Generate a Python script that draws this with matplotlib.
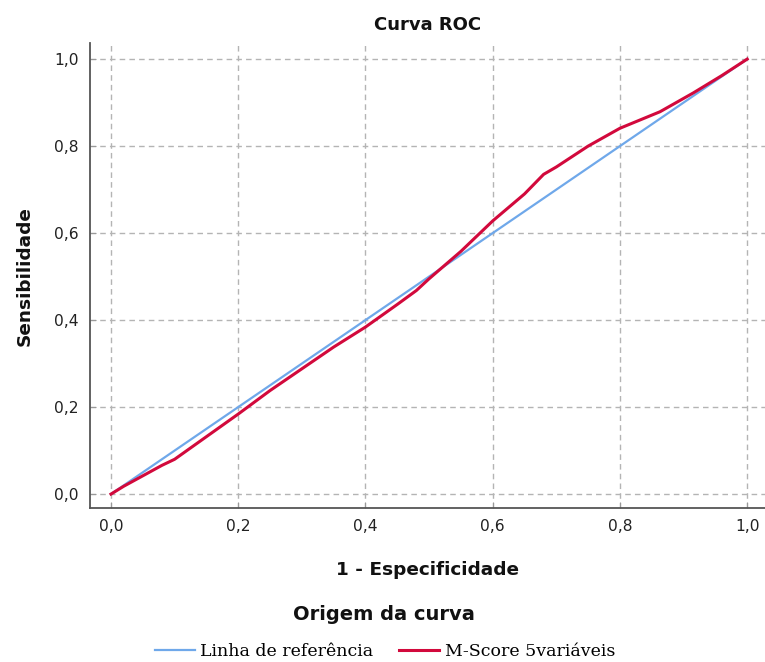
import matplotlib
matplotlib.use("Agg")
import matplotlib.pyplot as plt
from matplotlib.ticker import FuncFormatter

# Data
ref_x = [0.0, 1.0]
ref_y = [0.0, 1.0]
roc_x = [0.0, 0.02, 0.05, 0.08, 0.10, 0.15, 0.20, 0.25, 0.30, 0.35, 0.40, 0.45, 0.48,
         0.50, 0.55, 0.60, 0.65, 0.68, 0.70, 0.75, 0.80, 0.863, 0.915, 0.96, 1.0]
roc_y = [0.0, 0.018, 0.042, 0.066, 0.080, 0.132, 0.184, 0.238, 0.288, 0.338, 0.384, 0.436, 0.468,
         0.495, 0.558, 0.628, 0.690, 0.735, 0.752, 0.800, 0.841, 0.879, 0.922, 0.962, 1.0]
ticks = [0.0, 0.2, 0.4, 0.6, 0.8, 1.0]

W, H = 765, 662
fig = plt.figure(figsize=(W/100, H/100), dpi=100)
ax = fig.add_axes([90/W, 1-508/H, 1-90/W, (508-43)/H])

blue = "#6FA8EA"
red = "#D2093C"
l1, = ax.plot(ref_x, ref_y, color=blue, lw=1.6, label="Linha de referência", zorder=3)
l2, = ax.plot(roc_x, roc_y, color=red, lw=2.2, label="M-Score 5variáveis", zorder=4)

ax.set_xlim(-0.033, 1.028)
ax.set_ylim(-0.032, 1.037)
ax.set_xticks(ticks)
ax.set_yticks(ticks)
fmt = FuncFormatter(lambda v, p: f"{v:.1f}".replace(".", ","))
ax.xaxis.set_major_formatter(fmt)
ax.yaxis.set_major_formatter(fmt)
ax.grid(True, color="#B4B4B4", linestyle=(0, (4, 3)), lw=1.0, zorder=0)
for s in ["top", "right"]:
    ax.spines[s].set_visible(False)
for s in ["left", "bottom"]:
    ax.spines[s].set_color("#555555")
    ax.spines[s].set_linewidth(1.3)
ax.tick_params(direction="in", length=4, color="#999999", labelsize=11.2,
               labelcolor="#222222", pad=8)

fig.text(428/W, 1-25/H, "Curva ROC", ha="center", va="center",
         fontsize=13, fontweight="bold", color="#111111")
fig.text(428/W, 1-570/H, "1 - Especificidade", ha="center", va="center",
         fontsize=13.3, fontweight="bold", color="#111111")
fig.text(25/W, 1-276/H, "Sensibilidade", ha="center", va="center", rotation=90,
         fontsize=13.3, fontweight="bold", color="#111111")

fig.text(384/W, 1-615/H, "Origem da curva", ha="center", va="center",
         fontsize=14, fontweight="bold", color="#111111")
fig.legend(handles=[l1, l2], loc="center", bbox_to_anchor=(385/W, 1-652/H),
           ncol=2, frameon=False, prop={"family": "DejaVu Serif", "size": 12.5},
           handlelength=2.3, handletextpad=0.3, columnspacing=1.5)

fig.savefig("out.png", dpi=100)
